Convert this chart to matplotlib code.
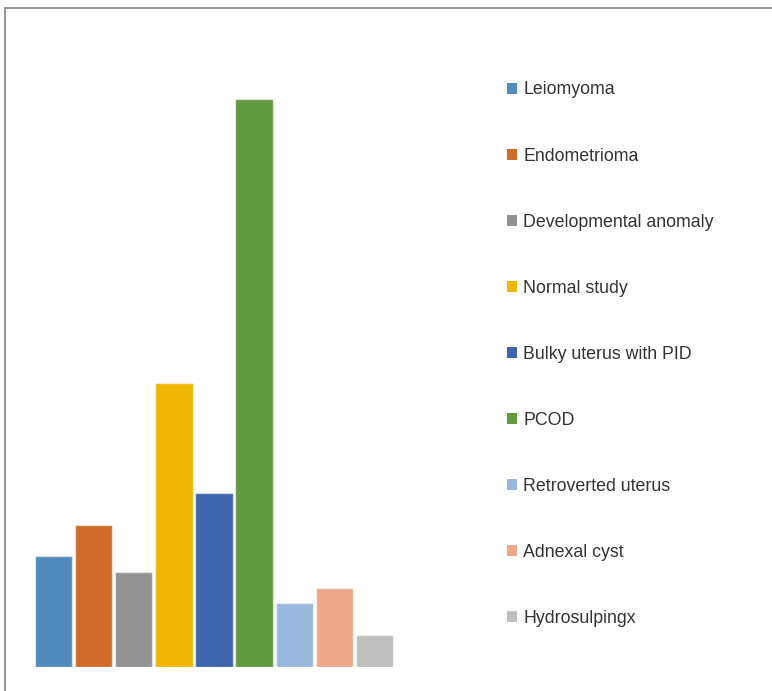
import matplotlib.pyplot as plt
from matplotlib.patches import Patch
from matplotlib.lines import Line2D

# findings and number of cases
findings = ["Leiomyoma", "Endometrioma", "Developmental anomaly", "Normal study",
            "Bulky uterus with PID", "PCOD", "Retroverted uterus", "Adnexal cyst",
            "Hydrosulpingx"]
cases = [7, 9, 6, 18, 11, 36, 4, 5, 2]
colors = ["#518BBD", "#D06C2A", "#929292", "#EFB605", "#3D66AD", "#629A3F",
          "#9AB8DE", "#F0A88A", "#BFBFBF"]

plt.rcParams['font.family'] = ['Liberation Sans', 'DejaVu Sans']

W, H = 772, 691
fig = plt.figure(figsize=(W / 100, H / 100), dpi=100)

# axes placed in pixel units
ax_left, ax_right = 33, 395
ax_bottom, ax_top = H - 666.5, H - 36
ax = fig.add_axes([ax_left / W, ax_bottom / H, (ax_right - ax_left) / W, (ax_top - ax_bottom) / H])

x = list(range(len(findings)))
ax.bar(x, cases, width=0.93, color=colors, edgecolor=(1, 1, 1, 0.55), linewidth=1.0)
ax.set_xlim(-0.511, 8.511)
ax.set_ylim(0, 40)
ax.axis("off")

handles = [Patch(facecolor=c, edgecolor='none') for c in colors]
fig.legend(handles, findings, loc='upper left', bbox_to_anchor=(507 / W, 1 - 81.5 / H),
           frameon=False, fontsize=12.8, labelcolor='#333333',
           handlelength=0.56, handleheight=0.56, handletextpad=0.35,
           labelspacing=2.76, borderpad=0, borderaxespad=0)

# chart-area border (top and left edges)
fig.add_artist(Line2D([5 / W, 5 / W], [0, 1 - 8 / H], color='#8C8C8C', lw=1.3))
fig.add_artist(Line2D([5 / W, 1], [1 - 8 / H, 1 - 8 / H], color='#8C8C8C', lw=1.3))

fig.savefig("out.png", dpi=100)
